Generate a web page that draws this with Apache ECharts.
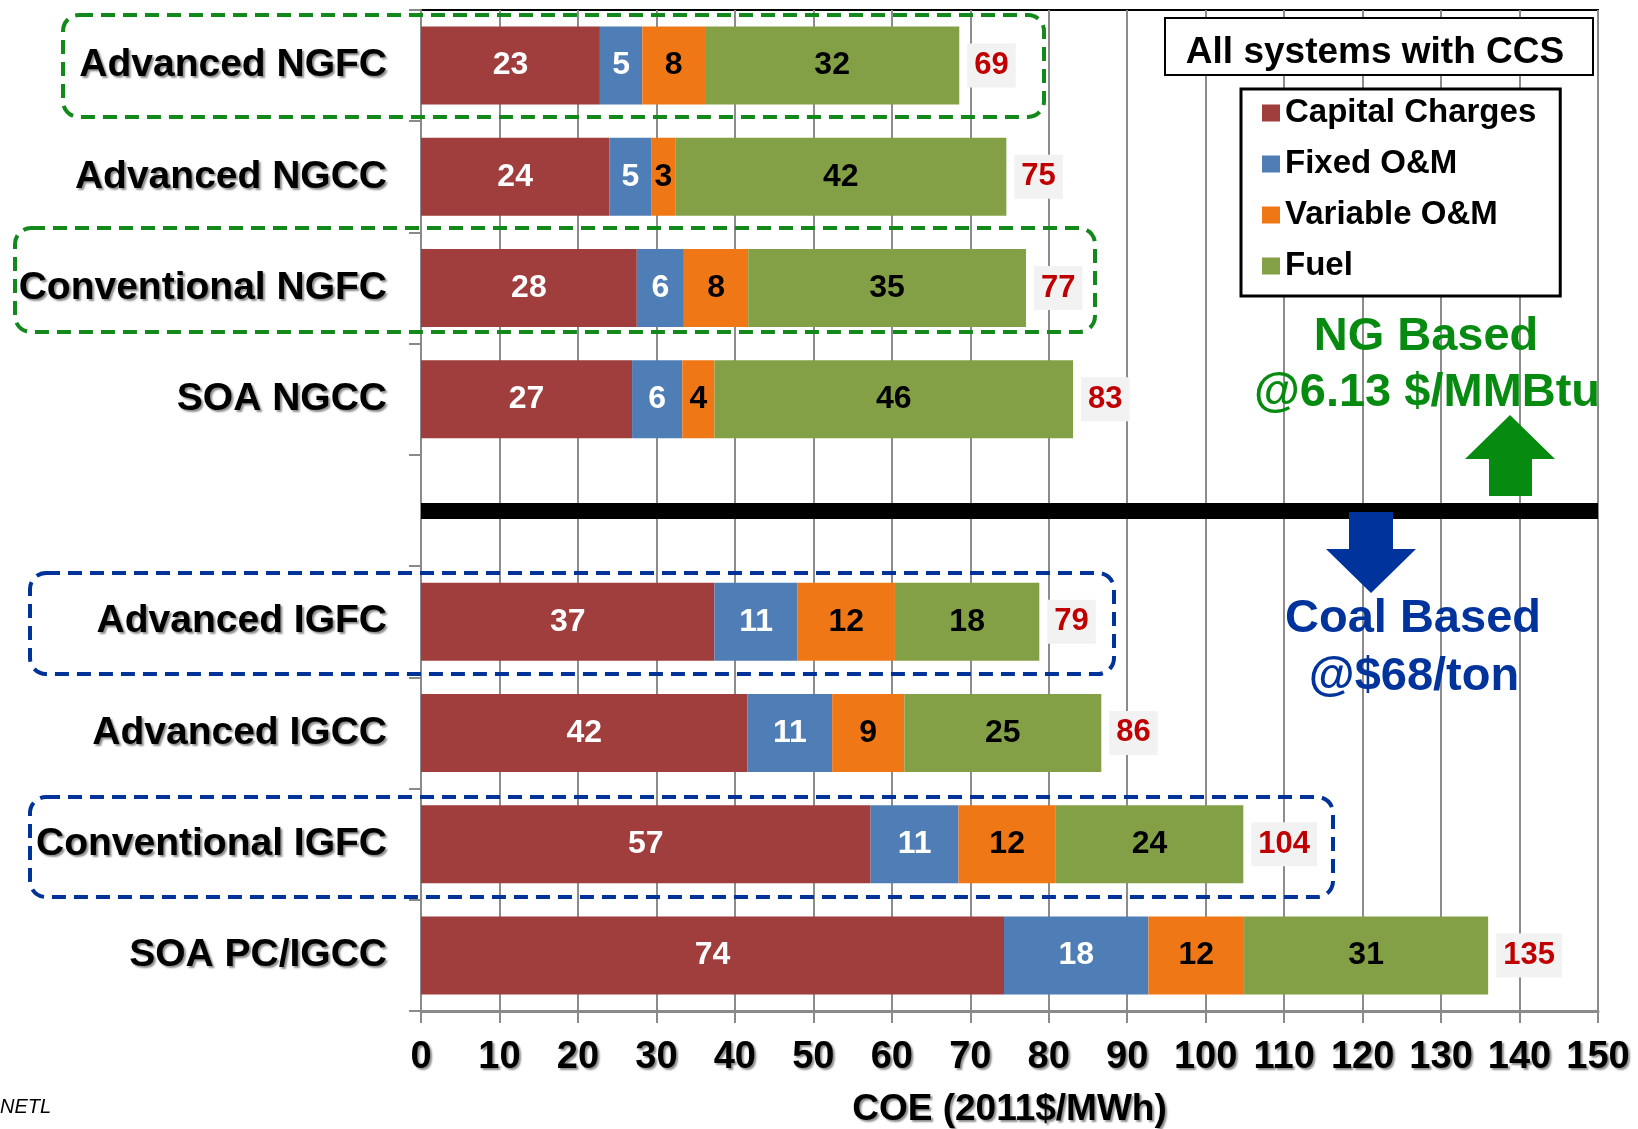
<!DOCTYPE html>
<html><head><meta charset="utf-8">
<script src="https://cdn.jsdelivr.net/npm/echarts@6/dist/echarts.min.js"></script>
<style>html,body{margin:0;padding:0;background:#fff}#c{width:1638px;height:1129px}</style>
</head><body><div id="c"></div>
<script>
const categories = ['Advanced NGFC','Advanced NGCC','Conventional NGFC','SOA NGCC','','Advanced IGFC','Advanced IGCC','Conventional IGFC','SOA PC/IGCC'];
const capital    = [22.8, 24.0, 27.5, 26.9, '-', 37.4, 41.6, 57.3, 74.3];
const fixedOM    = [5.4,  5.4,  6.0,  6.4,  '-', 10.6, 10.8, 11.2, 18.4];
const variableOM = [8.0,  3.0,  8.2,  4.1,  '-', 12.4, 9.2,  12.4, 12.2];
const fuel       = [32.4, 42.2, 35.4, 45.7, '-', 18.4, 25.1, 23.9, 31.1];
const totals     = [69, 75, 77, 83, '-', 79, 86, 104, 135];
const seriesNames = ['Capital Charges','Fixed O&M','Variable O&M','Fuel'];
const xMin = 0, xMax = 150, xStep = 10;

const FONT = '"Liberation Sans", Arial, Helvetica, sans-serif';
const colors = ['#A03D3D','#4F7DB5','#F07716','#84A046'];
const labelColors = ['#fff','#fff','#000','#000'];
const chart = echarts.init(document.getElementById('c'));

function seg(name, data, i) {
  return {
    name, type: 'bar', stack: 'coe', data, barWidth: 78,
    itemStyle: { color: colors[i] },
    label: { show: true, position: 'inside', fontFamily: FONT, fontWeight: 'bold', fontSize: 32,
      color: labelColors[i], formatter: p => Math.round(p.value) },
    emphasis: { disabled: true }
  };
}

const series = [
  seg(seriesNames[0], capital, 0),
  seg(seriesNames[1], fixedOM, 1),
  seg(seriesNames[2], variableOM, 2),
  seg(seriesNames[3], fuel, 3),
  {
    name: 'Total', type: 'bar', stack: 'coe', barWidth: 78,
    data: totals.map(t => t === '-' ? '-' : 0),
    itemStyle: { color: 'transparent' },
    label: { show: true, position: 'right', distance: 8, fontFamily: FONT, fontWeight: 'bold', fontSize: 31,
      color: '#C00000', backgroundColor: '#F2F2F2', padding: [7, 7, 6, 7],
      formatter: p => totals[p.dataIndex] },
    markLine: {
      silent: true, symbol: ['none','none'], label: { show: false },
      lineStyle: { color: '#000', width: 16, type: 'solid' },
      data: [{ yAxis: 4 }]
    },
    emphasis: { disabled: true }
  }
];

const shadow = { textShadowColor: 'rgba(0,0,0,0.45)', textShadowBlur: 2, textShadowOffsetX: 2, textShadowOffsetY: 2 };

function dashedBox(x, y, w, h, color) {
  return { type: 'rect', z: 100, shape: { x, y, width: w, height: h, r: 16 },
    style: { fill: 'none', stroke: color, lineWidth: 4, lineDash: [14, 8] }, silent: true };
}
function txt(text, x, y, size, color, extra) {
  return Object.assign({ type: 'text', z: 110, silent: true,
    style: { text, x, y, font: 'bold ' + size + 'px ' + FONT, fill: color,
      align: 'center', textAlign: 'center', verticalAlign: 'middle', textVerticalAlign: 'middle' } }, extra || {});
}

const option = {
  animation: false,
  backgroundColor: '#fff',
  grid: { left: 421, right: 40, top: 10, bottom: 118, show: true, borderColor: '#000', borderWidth: 2,
    containLabel: false, outerBoundsMode: 'none' },
  xAxis: {
    type: 'value', min: xMin, max: xMax, interval: xStep,
    name: 'COE (2011$/MWh)', nameLocation: 'middle', nameGap: 80,
    nameTextStyle: Object.assign({ fontFamily: FONT, fontWeight: 'bold', fontSize: 37, color: '#000' }, shadow),
    axisLine: { show: true, lineStyle: { color: '#8A8A8A', width: 3 } },
    axisTick: { show: true, length: 12, lineStyle: { color: '#8A8A8A', width: 2 } },
    splitLine: { show: true, lineStyle: { color: '#8C8C8C', width: 2 } },
    axisLabel: Object.assign({ fontFamily: FONT, fontWeight: 'bold', fontSize: 38, color: '#000', margin: 28 }, shadow)
  },
  yAxis: {
    type: 'category', inverse: true, data: categories,
    axisLine: { show: true, lineStyle: { color: '#8A8A8A', width: 2 } },
    axisTick: { show: true, length: 12, lineStyle: { color: '#8A8A8A', width: 2 } },
    splitLine: { show: false },
    axisLabel: Object.assign({ fontFamily: FONT, fontWeight: 'bold', fontSize: 39, color: '#000', margin: 34 }, shadow)
  },
  legend: {
    data: seriesNames, orient: 'vertical', left: 1241, top: 89,
    icon: 'rect', itemWidth: 18, itemHeight: 17, itemGap: 17,
    padding: [7, 24, 13, 21], borderColor: '#000', borderWidth: 3, backgroundColor: '#fff',
    textStyle: { fontFamily: FONT, fontWeight: 'bold', fontSize: 33, lineHeight: 34, color: '#000' },
    selectedMode: false
  },
  graphic: [
    dashedBox(63, 15, 981, 102, '#12891A'),
    dashedBox(15, 228, 1080, 104, '#12891A'),
    dashedBox(30, 573, 1084, 101, '#00339A'),
    dashedBox(30, 797, 1303, 100, '#00339A'),
    { type: 'rect', z: 105, silent: true, shape: { x: 1165, y: 18, width: 428, height: 57 },
      style: { fill: '#fff', stroke: '#000', lineWidth: 2 } },
    txt('All systems with CCS', 1375, 53, 37, '#000'),
    txt('NG Based', 1426, 337, 47, '#078A10'),
    txt('@6.13 $/MMBtu', 1427, 393, 47, '#078A10'),
    { type: 'polygon', z: 105, silent: true,
      shape: { points: [[1510,415],[1555,459],[1532,459],[1532,496],[1489,496],[1489,459],[1465,459]] },
      style: { fill: '#078A10' } },
    { type: 'polygon', z: 105, silent: true,
      shape: { points: [[1349,512],[1393,512],[1393,549],[1416,549],[1371,593],[1326,549],[1349,549]] },
      style: { fill: '#00349C' } },
    txt('Coal Based', 1413, 619, 47, '#00349C'),
    txt('@$68/ton', 1414, 677, 47, '#00349C'),
    { type: 'text', z: 110, silent: true,
      style: { text: 'NETL', x: 0, y: 1107, font: 'italic 20px ' + FONT, fill: '#000',
        align: 'left', textAlign: 'left', verticalAlign: 'middle', textVerticalAlign: 'middle' } }
  ],
  series
};
chart.setOption(option);
</script></body></html>
